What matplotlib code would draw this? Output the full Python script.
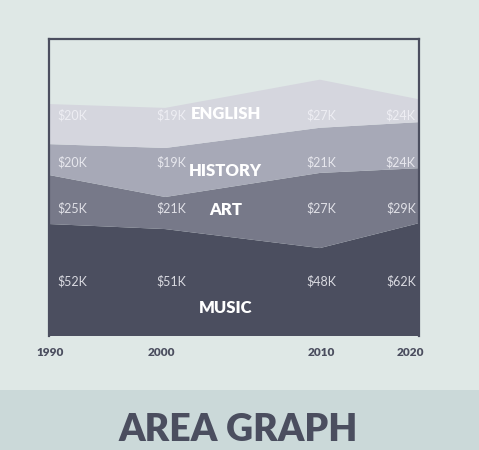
import numpy as np
import matplotlib
matplotlib.use('Agg')
import matplotlib.pyplot as plt

# данные
years = ['1990', '2000', '2010', '2020']
x_pos = [0.0, 0.314, 0.732, 1.0]

# высоты слоев (в условных единицах, шкала 0..100)
music = [37.7, 36.0, 29.6, 38.0]
art = [16.5, 10.8, 25.3, 18.5]
history = [10.4, 16.5, 15.2, 15.5]
english = [13.5, 13.5, 16.2, 7.7]

# подписи значений
music_lbl = ['$52K', '$51K', '$48K', '$62K']
art_lbl = ['$25K', '$21K', '$27K', '$29K']
history_lbl = ['$20K', '$19K', '$21K', '$24K']
english_lbl = ['$20K', '$19K', '$27K', '$24K']

names = ['MUSIC', 'ART', 'HISTORY', 'ENGLISH']

bg = '#dfe8e6'
band = '#cbd9d9'
dark = '#4b4e5f'
colors = ['#4b4e5f', '#777989', '#a7a9b7', '#d5d6de']

fig = plt.figure(figsize=(4.79, 4.5), dpi=100, facecolor=bg)

# нижняя полоса с заголовком
band_ax = fig.add_axes([0, 0, 1, 60 / 450])
band_ax.set_facecolor(band)
band_ax.set_xticks([])
band_ax.set_yticks([])
for s in band_ax.spines.values():
    s.set_visible(False)
band_ax.text(0.497, 0.34, 'AREA GRAPH', ha='center', va='center', fontsize=27,
             fontweight='heavy', color=dark, family='Lato', transform=band_ax.transAxes)

ax = fig.add_axes([49 / 479, (450 - 336) / 450, 370 / 479, 297 / 450])
ax.set_facecolor(bg)
ax.stackplot(x_pos, music, art, history, english, colors=colors, linewidth=0)
ax.set_xlim(0, 1)
ax.set_ylim(0, 100)

for side in ['top', 'left', 'right']:
    ax.spines[side].set_color(dark)
    ax.spines[side].set_linewidth(1.6)
ax.spines['bottom'].set_visible(False)

ax.set_yticks([])
ax.set_xticks([0.003, 0.305, 0.735, 0.976])
ax.set_xticklabels(years, fontsize=8.5, fontweight='heavy', color=dark, family='Lato')
ax.tick_params(axis='x', length=0, pad=8)

# подписи значений
lbl_x = [0.062, 0.33, 0.735, 0.951]
rows = [(music_lbl, 18.5), (art_lbl, 43.1), (history_lbl, 58.6), (english_lbl, 74.4)]
for lbls, yy in rows:
    for i in range(len(lbls)):
        ax.text(lbl_x[i], yy, lbls[i], ha='center', va='center', fontsize=9,
                color='#f2f2f7', alpha=0.85, family='Lato', fontweight='normal')

# названия слоев
name_y = [9.4, 42.4, 55.6, 74.7]
for name, yy in zip(names, name_y):
    ax.text(0.478, yy, name, ha='center', va='center', fontsize=12,
            fontweight='heavy', color='white', family='Lato')

fig.savefig('out.png', dpi=100, facecolor=bg)
